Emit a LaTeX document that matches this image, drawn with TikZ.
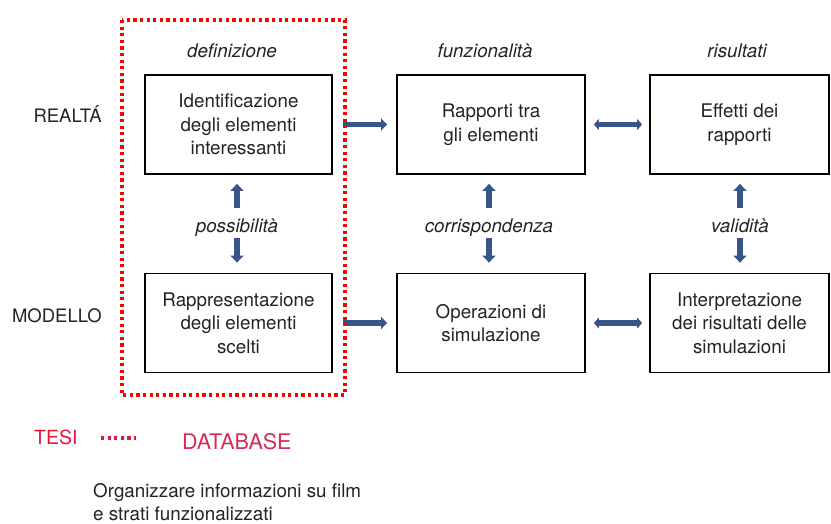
\documentclass[tikz,border=0pt]{standalone}
\usepackage{fontspec}
\setmainfont{TeX Gyre Heros}
\usetikzlibrary{arrows.meta}
\definecolor{arrblue}{RGB}{55,85,135}
\definecolor{tesired}{RGB}{232,20,60}
\definecolor{dbred}{RGB}{212,45,85}
\definecolor{txt}{RGB}{35,35,35}
\begin{document}
\begin{tikzpicture}[x=1pt,y=-1pt,
  box/.style={draw=black, line width=1.8pt, minimum height=99pt, align=center,
    font=\fontsize{18.8}{23.5}\selectfont, text=txt, inner sep=0pt},
  cat/.style={font=\fontsize{18.8}{22}\selectfont\itshape, text=txt, anchor=base,
    inner sep=0pt, text height=13pt, text depth=4pt},
  side/.style={font=\fontsize{18.5}{22}\selectfont, text=txt, anchor=base east, inner sep=0pt},
  harr/.style={draw=arrblue, line width=5.5pt, -{Triangle[length=6pt,width=12pt]}},
  darr/.style={draw=arrblue, line width=5.5pt, {Triangle[length=5pt,width=11pt]}-{Triangle[length=5pt,width=11pt]}},
  varr/.style={draw=arrblue, line width=5.5pt, -{Triangle[length=7pt,width=13pt]}},
  reddots/.style={line width=3.2pt, dash pattern=on 3.2pt off 3.4pt}
]
\useasboundingbox (0,0) rectangle (831,524);

% boxes
\node[box, minimum width=187pt] (A) at (238.5,124.5) {Identificazione\\degli elementi\\interessanti};
\node[box, minimum width=188pt] (B) at (491,124.5) {Rapporti tra\\gli elementi};
\node[box, minimum width=179pt] (C) at (739.5,124.5) {Effetti dei\\rapporti};
\node[box, minimum width=187pt] (D) at (238.5,323) {Rappresentazione\\degli elementi\\scelti};
\node[box, minimum width=188pt] (E) at (491,323) {Operazioni di\\simulazione};
\node[box, minimum width=179pt] (F) at (739.5,323) {Interpretazione\\dei risultati delle\\simulazioni};

% top category labels
\node[cat] (defi) at (232,58) {definizione};
\node[cat] (funz) at (485,58) {funzionalità};
\node[cat] (risu) at (737,58) {risultati};

% middle labels
\node[cat] (poss) at (237,233) {possibilità};
\node[cat] (corr) at (489,233) {corrispondenza};
\node[cat] (vali) at (740,233) {validità};

% side labels
\node[side] (realta) at (102,123) {REALTÁ};
\node[side] (modello) at (102,322) {MODELLO};

% horizontal arrows
\draw[harr, shorten <=10pt, shorten >=9pt] (A.east) -- (B.west);
\draw[darr, shorten <=8pt, shorten >=7pt] (B.east) -- (C.west);
\draw[harr, shorten <=10pt, shorten >=9pt] (D.east) -- (E.west);
\draw[darr, shorten <=8pt, shorten >=7pt] (E.east) -- (F.west);

% vertical arrows
\foreach \l/\u/\d in {poss/A/D, corr/B/E, vali/C/F}{
  \draw[varr, shorten <=12pt, shorten >=9pt] (\l.north) -- (\l.north |- \u.south);
  \draw[varr, shorten <=1pt, shorten >=10pt] (\l.south) -- (\l.south |- \d.north);
}

% red dotted frame
\draw[reddots, red] (122,20) rectangle (345,395);

% legend
\node[font=\fontsize{19.5}{22}\selectfont, text=tesired, anchor=base west, inner sep=0pt] (tesi) at (34,444) {TESI};
\coordinate (ld1) at (101,438);
\coordinate (ld2) at (136,438);
\draw[reddots, tesired] (ld1) -- (ld2);
\node[font=\fontsize{21.5}{24}\selectfont, text=dbred, anchor=base west, inner sep=0pt] (db) at (182,449) {DATABASE};

\node[font=\fontsize{18.8}{22}\selectfont, text=txt, anchor=base west, inner sep=0pt] (org1) at (93,497) {Organizzare informazioni su film};
\node[font=\fontsize{18.8}{22}\selectfont, text=txt, anchor=base west, inner sep=0pt] (org2) at (93,520) {e strati funzionalizzati};
\end{tikzpicture}
\end{document}
